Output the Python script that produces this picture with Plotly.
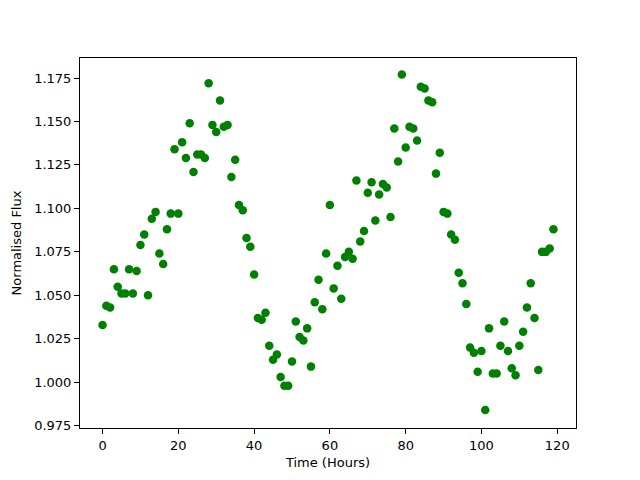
import plotly.graph_objects as go

hours = list(range(120))
flux = [
    1.033, 1.044, 1.043, 1.065, 1.055, 1.051, 1.051, 1.065, 1.051, 1.064,
    1.079, 1.085, 1.050, 1.094, 1.098, 1.074, 1.068, 1.088, 1.097, 1.134,
    1.097, 1.138, 1.129, 1.149, 1.121, 1.131, 1.131, 1.129, 1.172, 1.148,
    1.144, 1.162, 1.147, 1.148, 1.118, 1.128, 1.102, 1.099, 1.083, 1.078,
    1.062, 1.037, 1.036, 1.040, 1.021, 1.013, 1.016, 1.003, 0.998, 0.998,
    1.012, 1.035, 1.026, 1.024, 1.031, 1.009, 1.046, 1.059, 1.042, 1.074,
    1.102, 1.054, 1.067, 1.048, 1.072, 1.075, 1.071, 1.116, 1.081, 1.087,
    1.109, 1.115, 1.093, 1.108, 1.114, 1.112, 1.095, 1.146, 1.127, 1.177,
    1.135, 1.147, 1.146, 1.139, 1.170, 1.169, 1.162, 1.161, 1.120, 1.132,
    1.098, 1.097, 1.085, 1.082, 1.063, 1.057, 1.045, 1.020, 1.017, 1.006,
    1.018, 0.984, 1.031, 1.005, 1.005, 1.021, 1.035, 1.018, 1.008, 1.004,
    1.021, 1.029, 1.043, 1.057, 1.037, 1.007, 1.075, 1.075, 1.077, 1.088,
]
x_ticks = [0, 20, 40, 60, 80, 100, 120]
y_ticks = [0.975, 1.000, 1.025, 1.050, 1.075, 1.100, 1.125, 1.150, 1.175]

fig = go.Figure(go.Scatter(
    x=hours, y=flux, mode="markers",
    marker=dict(color="#008000", size=8.5, line=dict(width=0)),
))

axis_common = dict(
    showgrid=False, zeroline=False, showline=True, linecolor="black",
    linewidth=1, mirror=True, ticks="outside", ticklen=5, tickwidth=1,
    tickcolor="black", automargin=False,
    tickfont=dict(family="DejaVu Sans", size=13, color="black"),
)
fig.update_xaxes(range=[-5.95, 124.95], tickvals=x_ticks,
                 title=dict(text="Time (Hours)", font=dict(family="DejaVu Sans", size=13, color="black"), standoff=6),
                 **axis_common)
fig.update_yaxes(range=[0.9737, 1.1865], tickvals=y_ticks, tickformat=".3f",
                 title=dict(text="Normalised Flux", font=dict(family="DejaVu Sans", size=13, color="black"), standoff=9),
                 **axis_common)
fig.update_layout(
    width=640, height=480, plot_bgcolor="white", paper_bgcolor="white",
    margin=dict(l=72, r=72, t=50, b=60), showlegend=False,
)
fig.write_html("out.html")
